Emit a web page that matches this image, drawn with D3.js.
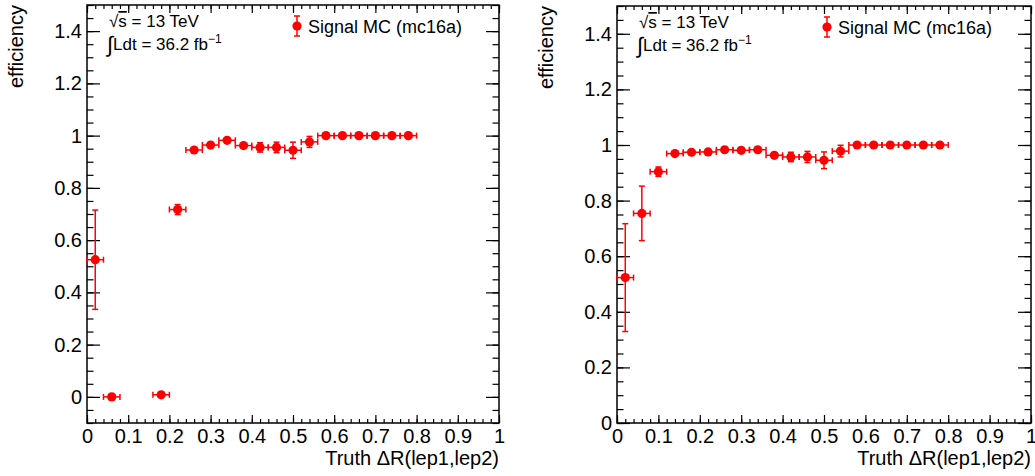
<!DOCTYPE html>
<html>
<head>
<meta charset="utf-8">
<script src="https://cdn.jsdelivr.net/npm/d3@7"></script>
<style>
  body { margin: 0; background: #fff; }
  svg { display: block; }
  text { font-family: "Liberation Sans", Arial, Helvetica, sans-serif; }
</style>
</head>
<body>
<svg id="chart" width="1035" height="476"></svg>
<script>
// bins of truth dR, width 0.04
var bin_centers = [0.02, 0.06, 0.10, 0.14, 0.18, 0.22, 0.26, 0.30, 0.34, 0.38,
                   0.42, 0.46, 0.50, 0.54, 0.58, 0.62, 0.66, 0.70, 0.74, 0.78];
var bin_half = 0.02;

// left panel (null = empty bin)
var eff_left = [0.525, 0.0, null, null, 0.008, 0.717, 0.945, 0.964, 0.982, 0.962,
                0.955, 0.955, 0.944, 0.976, 1, 1, 1, 1, 1, 1];
var err_left = [0.19, 0, 0, 0, 0.004, 0.019, 0.004, 0.004, 0.004, 0.004,
                0.018, 0.02, 0.031, 0.021, 0, 0, 0, 0, 0, 0];

// right panel
var eff_right = [0.523, 0.754, 0.904, 0.969, 0.974, 0.975, 0.983, 0.981, 0.983, 0.963,
                 0.957, 0.957, 0.945, 0.978, 1, 1, 1, 1, 1, 1];
var err_right = [0.194, 0.098, 0.017, 0.004, 0.004, 0.004, 0.004, 0.004, 0.004, 0.006,
                 0.017, 0.02, 0.03, 0.021, 0, 0, 0, 0, 0, 0];

var x_ticks = [0, 0.1, 0.2, 0.3, 0.4, 0.5, 0.6, 0.7, 0.8, 0.9, 1];
var y_ticks = [0, 0.2, 0.4, 0.6, 0.8, 1, 1.2, 1.4];

var x_title = "Truth \u0394R(lep1,lep2)";
var y_title = "efficiency";
var legend_label = "Signal MC (mc16a)";

var red = "#ff0000";
var marker_r = 4.6;
var svg = d3.select("#chart");

var panels = [
  { x0: 87, x1: 499, y0: 5, y1: 423, ydom: [-0.1, 1.5], eff: eff_left, err: err_left },
  { x0: 617, x1: 1031, y0: 6, y1: 423, ydom: [0, 1.5], eff: eff_right, err: err_right }
];

function range(a, b, step) {
  var out = [];
  for (var v = a; v <= b + 1e-9; v += step) out.push(Math.round(v * 1000) / 1000);
  return out;
}

function fmt(d) { return d3.format("")(Math.round(d * 10) / 10); }

function drawAxes(g, p, x, y) {
  var w = p.x1 - p.x0, h = p.y1 - p.y0;
  var minor_x = range(0, 1, 0.02);
  var minor_y = range(p.ydom[0], p.ydom[1], 0.05);

  // minor ticks
  g.append("g").attr("transform", "translate(0," + h + ")")
    .call(d3.axisBottom(x).tickValues(minor_x).tickSize(-4).tickFormat(""));
  g.append("g")
    .call(d3.axisTop(x).tickValues(minor_x).tickSize(-4).tickFormat(""));
  g.append("g")
    .call(d3.axisLeft(y).tickValues(minor_y).tickSize(-6.5).tickFormat(""));
  g.append("g").attr("transform", "translate(" + w + ",0)")
    .call(d3.axisRight(y).tickValues(minor_y).tickSize(-6.5).tickFormat(""));

  // major ticks
  g.append("g").attr("class", "x-axis").attr("transform", "translate(0," + h + ")")
    .call(d3.axisBottom(x).tickValues(x_ticks).tickSize(-8).tickPadding(6).tickFormat(fmt));
  g.append("g")
    .call(d3.axisTop(x).tickValues(x_ticks).tickSize(-8).tickFormat(""));
  g.append("g").attr("class", "y-axis")
    .call(d3.axisLeft(y).tickValues(y_ticks).tickSize(-13).tickPadding(5).tickFormat(fmt));
  g.append("g").attr("transform", "translate(" + w + ",0)")
    .call(d3.axisRight(y).tickValues(y_ticks).tickSize(-13).tickFormat(""));

  g.selectAll(".domain").remove();
  g.selectAll(".tick line").style("stroke", "#000").style("stroke-width", 1.2);
  g.selectAll(".tick text")
    .attr("fill", "#000")
    .attr("font-size", "20px")
    .attr("font-family", "Liberation Sans, Arial, sans-serif");

  // frame
  g.append("rect")
    .attr("width", w).attr("height", h)
    .style("fill", "none").style("stroke", "#000").style("stroke-width", 1.5);

  // titles
  g.append("text")
    .attr("x", w).attr("y", h + 42)
    .attr("text-anchor", "end")
    .attr("font-size", "20px")
    .text(x_title);
  g.append("text")
    .attr("transform", "translate(-64,0) rotate(-90)")
    .attr("text-anchor", "end")
    .attr("font-size", "20px")
    .text(y_title);
}

function drawPoints(g, p, x, y) {
  var pts = bin_centers.map((c, i) => ({ c: c, v: p.eff[i], e: p.err[i] }))
    .filter(d => d.v !== null);
  var cap = 3;

  // horizontal bin width bars
  g.selectAll("line.xerr").data(pts).enter().append("line")
    .attr("class", "xerr")
    .attr("x1", d => x(d.c - bin_half)).attr("x2", d => x(d.c + bin_half))
    .attr("y1", d => y(d.v)).attr("y2", d => y(d.v));
  ["-", "+"].forEach(s => {
    g.selectAll("line.xcap" + (s === "-" ? "l" : "r")).data(pts).enter().append("line")
      .attr("class", "xcap" + (s === "-" ? "l" : "r"))
      .attr("x1", d => x(s === "-" ? d.c - bin_half : d.c + bin_half))
      .attr("x2", d => x(s === "-" ? d.c - bin_half : d.c + bin_half))
      .attr("y1", d => y(d.v) - cap).attr("y2", d => y(d.v) + cap);
  });

  // vertical stat errors
  var withErr = pts.filter(d => d.e > 0);
  g.selectAll("line.yerr").data(withErr).enter().append("line")
    .attr("class", "yerr")
    .attr("x1", d => x(d.c)).attr("x2", d => x(d.c))
    .attr("y1", d => y(d.v - d.e)).attr("y2", d => y(d.v + d.e));
  ["lo", "hi"].forEach(s => {
    g.selectAll("line.ycap" + s).data(withErr).enter().append("line")
      .attr("class", "ycap" + s)
      .attr("x1", d => x(d.c) - cap).attr("x2", d => x(d.c) + cap)
      .attr("y1", d => y(s === "lo" ? d.v - d.e : d.v + d.e))
      .attr("y2", d => y(s === "lo" ? d.v - d.e : d.v + d.e));
  });

  g.selectAll("line").filter(function() { return !this.closest(".tick"); })
    .filter(function() { return this.getAttribute("class") && /err|cap/.test(this.getAttribute("class")); })
    .style("stroke", red).style("stroke-width", 1.5);

  g.selectAll("circle.point").data(pts).enter().append("circle")
    .attr("class", "point")
    .attr("cx", d => x(d.c)).attr("cy", d => y(d.v))
    .attr("r", marker_r)
    .style("fill", red);
}

function drawLabels(g) {
  var t1 = g.append("text").attr("x", 22).attr("y", 22).attr("font-size", "17px");
  t1.append("tspan").text("\u221A");
  t1.append("tspan").style("text-decoration", "overline").text("s");
  t1.append("tspan").text(" = 13 TeV");

  var t2 = g.append("text").attr("x", 20).attr("y", 45).attr("font-size", "17px");
  t2.append("tspan").attr("font-size", "22px").attr("dy", 2).text("\u222B");
  t2.append("tspan").attr("dy", -2).text("Ldt = 36.2 fb");
  t2.append("tspan").attr("font-size", "12px").attr("dy", -7).text("\u22121");

  // legend entry
  var lg = g.append("g").attr("transform", "translate(210,21)");
  lg.append("line").attr("x1", 0).attr("x2", 0).attr("y1", -10).attr("y2", 10);
  lg.append("line").attr("x1", -3).attr("x2", 3).attr("y1", -10).attr("y2", -10);
  lg.append("line").attr("x1", -3).attr("x2", 3).attr("y1", 10).attr("y2", 10);
  lg.selectAll("line").style("stroke", red).style("stroke-width", 1.5);
  lg.append("circle").attr("r", marker_r).style("fill", red);
  lg.append("text").attr("x", 11).attr("y", 6.5).attr("font-size", "18px").text(legend_label);
}

panels.forEach(p => {
  var x = d3.scaleLinear().domain([0, 1]).range([0, p.x1 - p.x0]);
  var y = d3.scaleLinear().domain(p.ydom).range([p.y1 - p.y0, 0]);
  var g = svg.append("g").attr("transform", "translate(" + p.x0 + "," + p.y0 + ")");
  drawAxes(g, p, x, y);
  drawPoints(g, p, x, y);
  drawLabels(g);
});
</script>
</body>
</html>
